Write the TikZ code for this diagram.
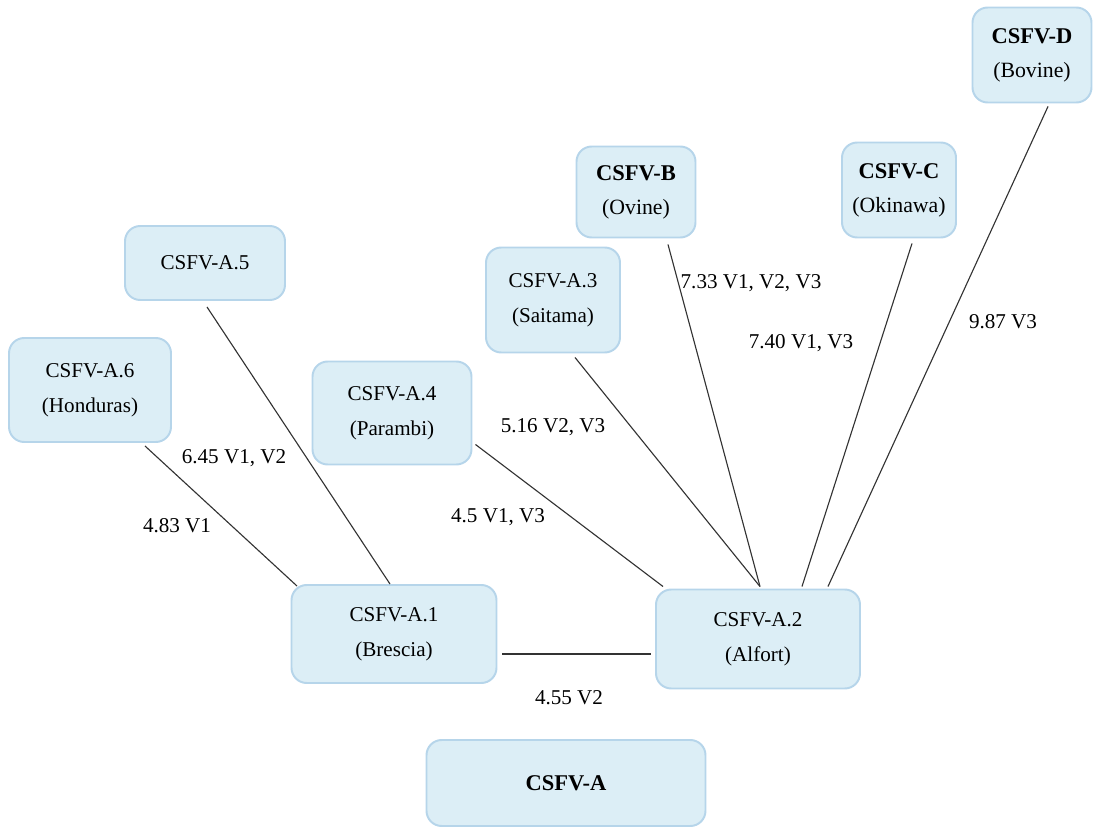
\documentclass[tikz,border=0pt]{standalone}
\usepackage{fontspec}
\setmainfont{Liberation Serif}
\usetikzlibrary{calc}
\definecolor{boxfill}{HTML}{DCEEF6}
\definecolor{boxline}{HTML}{B6D5EA}
\definecolor{edgeline}{HTML}{333333}
\tikzstyle{strainnode} = [draw=boxline, fill=boxfill, line width=1.4pt, rounded corners=0.38cm, inner sep=0pt, align=center, font=\fontsize{15}{25}\selectfont]
\tikzstyle{groupnode} = [strainnode, font=\fontsize{16}{24}\selectfont\bfseries]
\tikzstyle{boxsize} = [minimum width=#1*0.025cm]
\tikzstyle{boxheight} = [minimum height=#1*0.025cm]
\tikzstyle{edge} = [draw=edgeline, line width=0.8pt]
\tikzstyle{dist} = [font=\fontsize{15}{18}\selectfont, inner sep=0pt]

\begin{document}
\begin{tikzpicture}[x=0.025cm, y=0.025cm]
  \useasboundingbox (0,0) rectangle (1120,-827);

  % groups
  \node[groupnode, boxsize=279, boxheight=86] (A) at (566,-783) {CSFV-A};
  \node[groupnode, boxsize=119, boxheight=91] (B) at (636,-192) {CSFV-B\\{\mdseries\fontsize{15.5}{24}\selectfont (Ovine)}};
  \node[groupnode, boxsize=114, boxheight=95] (C) at (899,-190) {CSFV-C\\{\mdseries\fontsize{15.5}{24}\selectfont (Okinawa)}};
  \node[groupnode, boxsize=119, boxheight=95] (D) at (1032,-55) {CSFV-D\\{\mdseries\fontsize{15.5}{24}\selectfont (Bovine)}};

  % subgenotypes
  \node[strainnode, boxsize=205, boxheight=98] (a1) at (394,-634) {CSFV-A.1\\(Brescia)};
  \node[strainnode, boxsize=204, boxheight=99] (a2) at (758,-639) {CSFV-A.2\\(Alfort)};
  \node[strainnode, boxsize=134, boxheight=105] (a3) at (553,-300) {CSFV-A.3\\(Saitama)};
  \node[strainnode, boxsize=159, boxheight=103] (a4) at (392,-413) {CSFV-A.4\\(Parambi)};
  \node[strainnode, boxsize=160, boxheight=74] (a5) at (205,-263) {CSFV-A.5};
  \node[strainnode, boxsize=162, boxheight=104] (a6) at (90,-390) {CSFV-A.6\\(Honduras)};

  % distances
  \draw[edge] ($(a6.south)+(55,-3)$) -- ($(a1.north)+(-97,-2)$);
  \draw[edge] ($(a5.south)+(2,-6)$) -- ($(a1.north)+(-4,0)$);
  \draw[edge] ($(a1.east)+(5,-20)$) -- ($(a2.west)+(-4,-15)$);
  \draw[edge] ($(a4.south east)+(3,21)$) -- ($(a2.north west)+(8,2)$);
  \draw[edge] ($(a3.south)+(22,-4)$) -- ($(a2.north)+(2,2)$);
  \draw[edge] ($(B.south)+(32,-6)$) -- ($(a2.north)+(2,2)$);
  \draw[edge] ($(C.south)+(13,-5)$) -- ($(a2.north)+(44,2)$);
  \draw[edge] ($(D.south)+(16,-3)$) -- ($(a2.north)+(70,2)$);

  \node[dist] (d61) at (234,-458) {6.45 V1, V2};
  \node[dist] (d51) at (177,-526) {4.83 V1};
  \node[dist] (d42) at (498,-517) {4.5 V1, V3};
  \node[dist] (d32) at (553,-427) {5.16 V2, V3};
  \node[dist] (dB2) at (751,-283) {7.33 V1, V2, V3};
  \node[dist] (dC2) at (801,-343) {7.40 V1, V3};
  \node[dist] (dD2) at (1003,-322) {9.87 V3};
  \node[dist] (d12) at (569,-698) {4.55 V2};
\end{tikzpicture}
\end{document}
